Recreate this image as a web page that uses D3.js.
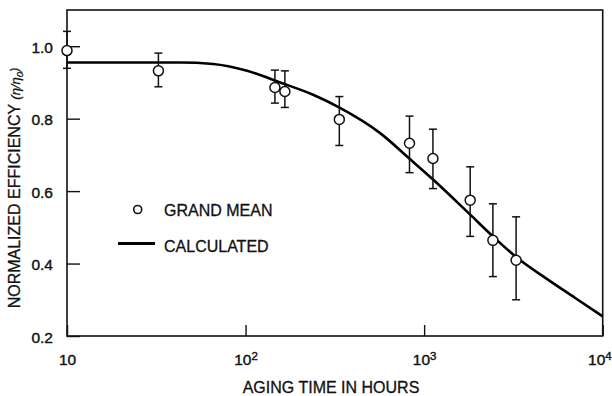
<!DOCTYPE html>
<html>
<head>
<meta charset="utf-8">
<script src="https://cdn.jsdelivr.net/npm/d3@7"></script>
<style>
  body { margin: 0; background: #fff; }
  svg { display: block; }
  text { font-family: "Liberation Sans", Arial, Helvetica, sans-serif; fill: #111; }
</style>
</head>
<body>
<svg id="chart" width="612" height="396"></svg>
<script>
// grand mean points with error bars
const HOURS = [10, 32.5, 146, 166, 335, 828, 1120, 1811, 2427, 3274];
const MEAN  = [0.988, 0.932, 0.886, 0.875, 0.798, 0.732, 0.690, 0.575, 0.464, 0.409];
const LOW   = [0.939, 0.888, 0.843, 0.831, 0.726, 0.651, 0.607, 0.475, 0.364, 0.300];
const HIGH  = [1.041, 0.981, 0.934, 0.932, 0.861, 0.807, 0.771, 0.667, 0.565, 0.529];

// calculated curve
const CURVE_HOURS = [10, 29.2, 43, 65.8, 102, 156, 239, 334, 567, 835, 1122, 1811, 2427, 3274, 4887, 7015, 10000];
const CURVE_EFF   = [0.955, 0.955, 0.955, 0.951, 0.932, 0.900, 0.866, 0.831, 0.760, 0.688, 0.632, 0.535, 0.475, 0.418, 0.357, 0.305, 0.254];

const X_TICKS = [10, 100, 1000, 10000];
const X_EXP = ['', '2', '3', '4'];
const Y_TICKS = [0.2, 0.4, 0.6, 0.8, 1.0];

const margin = {top: 10, right: 9.3, bottom: 60, left: 67};
const width = 612, height = 396;

const svg = d3.select('#chart');

const x = d3.scaleLog()
    .domain([10, 10000])
    .range([margin.left, width - margin.right]);
const y = d3.scaleLinear()
    .domain([0.2, 1.1])
    .range([height - margin.bottom, margin.top]);

// axes
svg.append('g')
    .attr('transform', `translate(${margin.left},0)`)
    .call(d3.axisLeft(y)
        .tickValues(Y_TICKS)
        .tickSizeInner(-13)
        .tickSizeOuter(0)
        .tickPadding(14)
        .tickFormat(d3.format('.1f')))
    .call(g => g.select('.domain').remove())
    .call(g => g.selectAll('.tick line').attr('stroke', '#111').attr('stroke-width', 1.4))
    .call(g => g.selectAll('.tick text')
        .attr('font-size', 15.5)
        .attr('dy', '0.4em')
        .attr('fill', '#111')
        .attr('stroke', '#111').attr('stroke-width', 0.4));

const xAxis = svg.append('g')
    .attr('transform', `translate(0,${height - margin.bottom})`)
    .call(d3.axisBottom(x)
        .tickValues(X_TICKS)
        .tickSizeInner(-11)
        .tickSizeOuter(0)
        .tickPadding(18)
        .tickFormat(() => '10'))
    .call(g => g.select('.domain').remove())
    .call(g => g.selectAll('.tick line').attr('stroke', '#111').attr('stroke-width', 1.4));

xAxis.selectAll('.tick text')
    .attr('font-size', 15.5)
    .attr('fill', '#111')
    .attr('stroke', '#111').attr('stroke-width', 0.4)
    .each(function(d, i) {
        if (X_EXP[i]) {
            d3.select(this).append('tspan')
                .attr('font-size', 11.5)
                .attr('dy', '-0.45em')
                .text(X_EXP[i]);
        }
    });
// last label sits at the right edge
xAxis.selectAll('.tick text')
    .filter(d => d === 10000)
    .attr('text-anchor', 'end')
    .attr('x', 8.5);

// frame
svg.append('rect')
    .attr('x', margin.left)
    .attr('y', margin.top)
    .attr('width', width - margin.left - margin.right)
    .attr('height', height - margin.top - margin.bottom)
    .attr('fill', 'none')
    .attr('stroke', '#111')
    .attr('stroke-width', 1.6);

// calculated curve
const curveData = CURVE_HOURS.map((h, i) => ({h, v: CURVE_EFF[i]}));
const line = d3.line()
    .x(d => x(d.h))
    .y(d => y(d.v))
    .curve(d3.curveMonotoneX);

svg.append('path')
    .datum(curveData)
    .attr('fill', 'none')
    .attr('stroke', '#000')
    .attr('stroke-width', 2.6)
    .attr('d', line);

// error bars
const pts = HOURS.map((h, i) => ({h, m: MEAN[i], lo: LOW[i], hi: HIGH[i]}));
const cap = 4;
const bars = svg.append('g')
    .attr('stroke', '#111')
    .attr('stroke-width', 1.5);

bars.selectAll('.bar')
    .data(pts)
    .join('line')
    .attr('x1', d => x(d.h)).attr('x2', d => x(d.h))
    .attr('y1', d => y(d.lo)).attr('y2', d => y(d.hi));

bars.selectAll('.captop')
    .data(pts)
    .join('line')
    .attr('x1', d => x(d.h) - cap).attr('x2', d => x(d.h) + cap)
    .attr('y1', d => y(d.hi)).attr('y2', d => y(d.hi));

bars.selectAll('.capbot')
    .data(pts)
    .join('line')
    .attr('x1', d => x(d.h) - cap).attr('x2', d => x(d.h) + cap)
    .attr('y1', d => y(d.lo)).attr('y2', d => y(d.lo));

svg.append('g')
    .selectAll('circle')
    .data(pts)
    .join('circle')
    .attr('cx', d => x(d.h))
    .attr('cy', d => y(d.m))
    .attr('r', 5)
    .attr('fill', '#fff')
    .attr('stroke', '#111')
    .attr('stroke-width', 1.5);

// legend
const legend = svg.append('g');
legend.append('circle')
    .attr('cx', 137.7).attr('cy', 209.5).attr('r', 4)
    .attr('fill', '#fff').attr('stroke', '#111').attr('stroke-width', 1.6);
legend.append('text')
    .attr('x', 164).attr('y', 215.5)
    .attr('font-size', 16)
    .attr('stroke', '#111').attr('stroke-width', 0.3)
    .text('GRAND MEAN');
legend.append('line')
    .attr('x1', 118).attr('x2', 155)
    .attr('y1', 243.5).attr('y2', 243.5)
    .attr('stroke', '#000').attr('stroke-width', 2.8);
legend.append('text')
    .attr('x', 164).attr('y', 251.5)
    .attr('font-size', 16)
    .attr('stroke', '#111').attr('stroke-width', 0.3)
    .text('CALCULATED');

// axis titles
svg.append('text')
    .attr('x', 331).attr('y', 393)
    .attr('text-anchor', 'middle')
    .attr('font-size', 16)
    .attr('stroke', '#111').attr('stroke-width', 0.3)
    .text('AGING TIME IN HOURS');

const yTitle = svg.append('text')
    .attr('transform', 'translate(20,188) rotate(-90)')
    .attr('text-anchor', 'middle')
    .attr('font-size', 16)
    .attr('stroke', '#111').attr('stroke-width', 0.3);
yTitle.append('tspan').text('NORMALIZED EFFICIENCY ');
yTitle.append('tspan').attr('font-size', 13).attr('font-style', 'italic').text('(η/η');
yTitle.append('tspan').attr('font-size', 9.5).attr('font-style', 'italic').attr('dy', '0.3em').text('0');
yTitle.append('tspan').attr('font-size', 13).attr('font-style', 'italic').attr('dy', '-0.3em').text(')');
</script>
</body>
</html>
